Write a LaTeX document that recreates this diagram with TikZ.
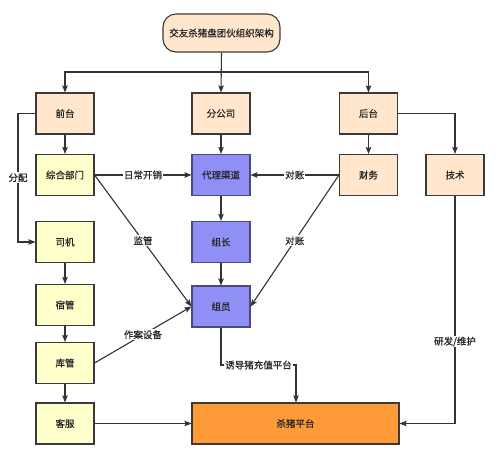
\documentclass[tikz,border=0pt]{standalone}
\usepackage{fontspec}
\setmainfont{Noto Sans CJK SC}[FakeBold=0.6]
\usetikzlibrary{arrows.meta,positioning,calc}
\definecolor{peach}{HTML}{FFE6CC}
\definecolor{lyellow}{HTML}{FFFFCC}
\definecolor{lblue}{HTML}{8F8FF5}
\definecolor{orng}{HTML}{FF9A38}
\definecolor{edgec}{HTML}{333333}
\definecolor{bordc}{HTML}{3A3A3A}
\definecolor{blueb}{HTML}{4A4A80}
\tikzset{
  box/.style={draw=bordc, line width=1.1pt, minimum width=58pt, minimum height=41pt, inner sep=0pt, font=\fontsize{9.5}{11}\selectfont, text=black!85},
  pbox/.style={box, fill=peach},
  ybox/.style={box, fill=lyellow},
  bbox/.style={box, fill=lblue, draw=blueb},
  arr/.style={draw=edgec, line width=1.1pt, -{Stealth[length=7pt,width=5.5pt,inset=1.2pt]}},
  lbl/.style={fill=white, inner sep=1pt, font=\fontsize{9.5}{11}\selectfont, text=black!85},
}
\begin{document}
\begin{tikzpicture}[x=1pt,y=-1pt]
\useasboundingbox[fill=white] (0,0) rectangle (499,459);
% nodes
\node[pbox, minimum width=117pt, minimum height=38pt, rounded corners=13pt] (top) at (221.5,33) {交友杀猪盘团伙组织架构};
\node[pbox] (qt) at (65,113.5) {前台};
\node[pbox] (fgs) at (221,113.5) {分公司};
\node[pbox] (ht) at (368.5,113.5) {后台};
\node[ybox] (zh) at (65,175) {综合部门};
\node[bbox] (dl) at (221,175) {代理渠道};
\node[pbox] (cw) at (368.5,175) {财务};
\node[pbox] (js) at (455,175) {技术};
\node[ybox] (sj) at (65,242) {司机};
\node[bbox] (zz) at (221,242) {组长};
\node[ybox] (sg) at (65,305) {宿管};
\node[bbox] (zy) at (221,306.5) {组员};
\node[ybox] (kg) at (65,363) {库管};
\node[ybox] (kf) at (65,423.5) {客服};
\node[box, fill=orng, minimum width=207pt] (pt) at (295.5,423.5) {杀猪平台};
% coordinates
\coordinate (split) at (221.5,72);
\coordinate (fp) at (18,113.5);
\coordinate (fq) at (18,242);
\coordinate (zyd) at (221,365);
\coordinate (pin) at (296,365);
\coordinate (jsd) at (455,423.5);
% top edges
\draw[arr] (top.south) -- (fgs.north);
\draw[arr] (top.south) -- (split) -| (qt.north);
\draw[arr] (top.south) -- (split) -| (ht.north);
% verticals
\draw[arr] (qt) -- (zh);
\draw[arr] (fgs) -- (dl);
\draw[arr] (ht) -- (cw);
\draw[arr] (ht.east) -| (js.north);
\draw[arr] (dl) -- (zz);
\draw[arr] (zz) -- (zy);
\draw[arr] (sj) -- (sg);
\draw[arr] (sg) -- (kg);
\draw[arr] (kg) -- (kf);
% 分配
\draw[arr] (qt.west) -- (fp) -- node[lbl] {分配} (fq) -- (sj.west);
% horizontal labelled
\draw[arr] (zh.east) -- node[lbl] {日常开销} (dl.west);
\draw[arr] (cw.west) -- node[lbl] {对账} (dl.east);
% diagonals
\draw[arr] (zh.east) -- node[lbl] {监管} (zy.west);
\draw[arr] (cw.west) -- node[lbl] {对账} (zy.east);
\draw[arr] (kg.east) -- node[lbl] {作案设备} (zy.west);
% bottom
\draw[arr] (kf) -- (pt);
\draw[arr] (zy.south) -- (zyd) -- node[lbl] {诱导猪充值平台} (pin) -- (pin |- pt.north);
\draw[arr] (js.south) -- node[lbl, pos=0.64] {研发/维护} (jsd) -- (pt.east);
\end{tikzpicture}
\end{document}
